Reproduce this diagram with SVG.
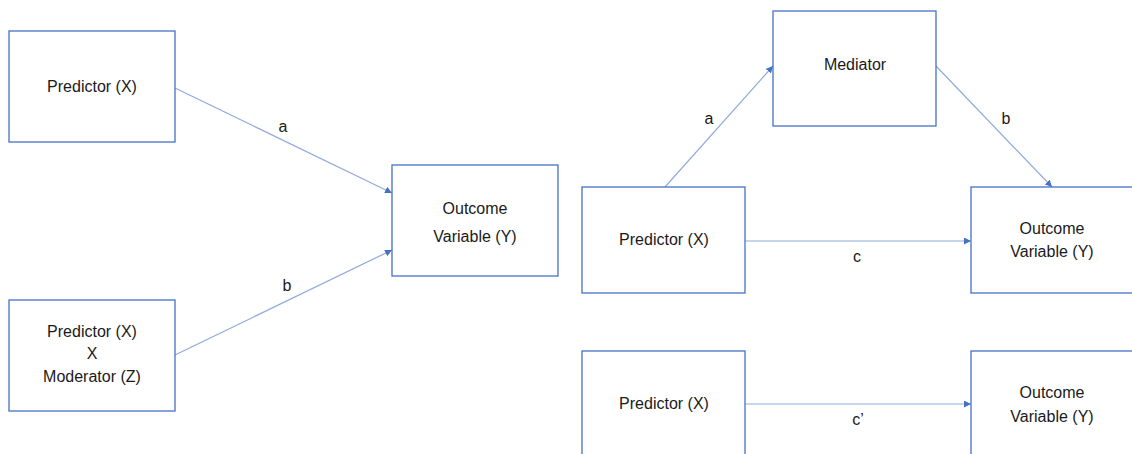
<svg xmlns="http://www.w3.org/2000/svg" width="1132" height="454" viewBox="0 0 1132 454">
<defs>
<style>
.box{fill:#fff;stroke:#4472C4;stroke-width:1.3}
.t{font-family:"Liberation Sans",Arial,sans-serif;font-size:16px;fill:#1a1a1a;text-anchor:middle;dominant-baseline:middle}
.c{stroke:#8FAADC;stroke-width:1.2;fill:none;marker-end:url(#ah)}
</style>
<marker id="ah" viewBox="0 0 10 10" refX="10" refY="5" markerWidth="7" markerHeight="7" markerUnits="userSpaceOnUse" orient="auto">
<path d="M0,0 L10,5 L0,10 z" fill="#4472C4"/>
</marker>
</defs>
<rect width="1132" height="454" fill="#fff"/>
<g id="connectors">
<line class="c" x1="175" y1="88" x2="392" y2="193"/>
<line class="c" x1="175" y1="355" x2="392" y2="250"/>
<line class="c" x1="665" y1="187" x2="773" y2="66"/>
<line class="c" x1="936" y1="66" x2="1052" y2="187"/>
<line class="c" x1="745" y1="241" x2="971" y2="241"/>
<line class="c" x1="745" y1="404" x2="971" y2="404"/>
<text class="t" x="283" y="128">a</text>
<text class="t" x="287" y="287">b</text>
<text class="t" x="709" y="120">a</text>
<text class="t" x="1006" y="120">b</text>
<text class="t" x="857" y="258">c</text>
<text class="t" x="858" y="421">c’</text>
</g>
<g id="mod-predictor">
<rect class="box" x="9" y="31" width="166" height="111"/>
<text class="t" x="92" y="88">Predictor (X)</text>
</g>
<g id="mod-interaction">
<rect class="box" x="9" y="300" width="166" height="111"/>
<text class="t" x="92" y="333">Predictor (X)</text>
<text class="t" x="92" y="355">X</text>
<text class="t" x="92" y="378">Moderator (Z)</text>
</g>
<g id="mod-outcome">
<rect class="box" x="392" y="165" width="166" height="111"/>
<text class="t" x="475" y="210">Outcome</text>
<text class="t" x="475" y="238">Variable (Y)</text>
</g>
<g id="med-mediator">
<rect class="box" x="773" y="11" width="163" height="115"/>
<text class="t" x="855" y="66">Mediator</text>
</g>
<g id="med-predictor">
<rect class="box" x="582" y="187" width="163" height="106"/>
<text class="t" x="664" y="241">Predictor (X)</text>
</g>
<g id="med-outcome">
<rect class="box" x="971" y="187" width="163" height="106"/>
<text class="t" x="1052" y="230">Outcome</text>
<text class="t" x="1052" y="253">Variable (Y)</text>
</g>
<g id="direct-predictor">
<rect class="box" x="582" y="351" width="163" height="110"/>
<text class="t" x="664" y="405">Predictor (X)</text>
</g>
<g id="direct-outcome">
<rect class="box" x="971" y="351" width="163" height="110"/>
<text class="t" x="1052" y="394">Outcome</text>
<text class="t" x="1052" y="418">Variable (Y)</text>
</g>
</svg>
